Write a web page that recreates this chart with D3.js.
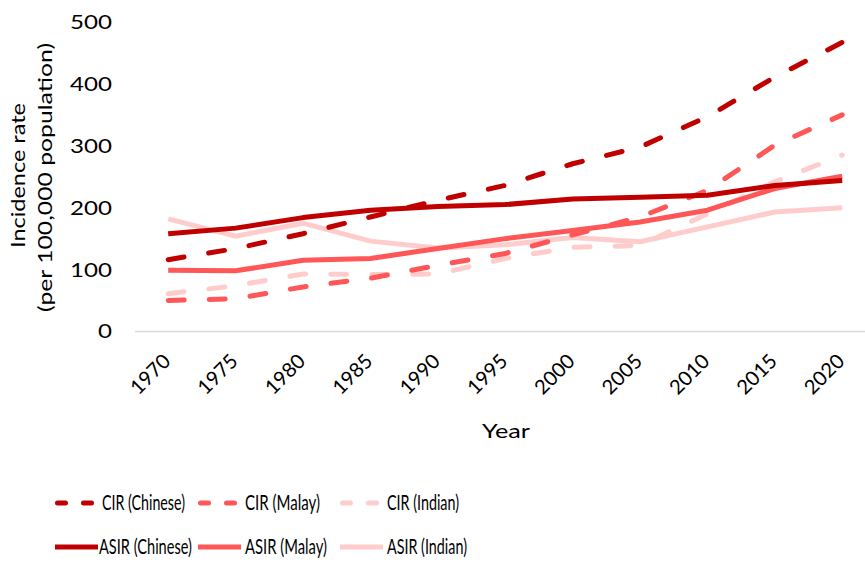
<!DOCTYPE html>
<html>
<head>
<meta charset="utf-8">
<script src="https://cdn.jsdelivr.net/npm/d3@7"></script>
<style>
  body { margin: 0; background: #fff; }
  svg { display: block; }
  text { font-family: "Century Gothic", "Lato", "Open Sans", sans-serif; fill: #000; }
</style>
</head>
<body>
<svg id="chart" width="865" height="563"></svg>
<script>
const years = ["1970","1975","1980","1985","1990","1995","2000","2005","2010","2015","2020"];
const cirChinese = [116, 134, 158, 185, 212, 236, 271, 298, 347, 411, 467];
const cirMalay   = [50, 53, 72, 86, 107, 126, 156, 185, 228, 301, 350];
const cirIndian  = [61, 74, 93, 92, 93, 118, 136, 139, 190, 242, 285];
const asirChinese = [158, 167, 184, 196, 202, 205, 214, 217, 220, 236, 244];
const asirMalay   = [99, 98, 115, 118, 134, 150, 163, 177, 196, 231, 251];
const asirIndian  = [182, 154, 175, 146, 135, 140, 152, 145, 169, 193, 200];
const yTicks = [0, 100, 200, 300, 400, 500];

const colDark = "#C00000", colMid = "#FF5757", colLight = "#FFCCCC";
const series = [
  {name: "CIR (Chinese)", values: cirChinese, color: colDark, dashed: true},
  {name: "CIR (Malay)", values: cirMalay, color: colMid, dashed: true},
  {name: "CIR (Indian)", values: cirIndian, color: colLight, dashed: true},
  {name: "ASIR (Chinese)", values: asirChinese, color: colDark, dashed: false},
  {name: "ASIR (Malay)", values: asirMalay, color: colMid, dashed: false},
  {name: "ASIR (Indian)", values: asirIndian, color: colLight, dashed: false}
];
const FONT = '"Century Gothic", "Lato", "Open Sans", sans-serif';

const svg = d3.select("#chart");
const left = 134.5, step = 67.4;
const x = d3.scalePoint().domain(years).range([left + step/2, left + step/2 + step*10]);
const y = d3.scaleLinear().domain([0, 500]).range([331.5, 22]);

// x axis line
svg.append("line").attr("x1", 135).attr("x2", 865).attr("y1", y(0)).attr("y2", y(0))
  .attr("stroke", "#d9d9d9").attr("stroke-width", 1.5);

// y tick labels
const yAxis = d3.axisLeft(y).tickValues(yTicks).tickSize(0).tickPadding(0);
const gy = svg.append("g").attr("transform", "translate(112,0)").call(yAxis);
gy.select(".domain").remove();
gy.selectAll("text").attr("font-size", 20).attr("fill", "#000")
  .style("font-family", FONT)
  .attr("textLength", d => String(d).length * 14)
  .attr("lengthAdjust", "spacingAndGlyphs");

// x tick labels
const xAxis = d3.axisBottom(x).tickSize(0).tickPadding(0);
const gx = svg.append("g").attr("transform", `translate(0,${y(0)})`).call(xAxis);
gx.select(".domain").remove();
gx.selectAll("text")
  .attr("font-size", 20).attr("fill", "#000")
  .style("font-family", FONT)
  .attr("text-anchor", "end")
  .attr("dy", 0)
  .attr("textLength", 47)
  .attr("lengthAdjust", "spacingAndGlyphs")
  .attr("transform", "translate(3,31) rotate(-45)");

// lines
const line = d3.line().x((d, i) => x(years[i])).y(d => y(d));
const order = [2, 5, 1, 4, 0, 3];
order.forEach(k => {
  const s = series[k];
  svg.append("path").datum(s.values)
    .attr("d", line)
    .attr("fill", "none")
    .attr("stroke", s.color)
    .attr("stroke-width", 5)
    .attr("stroke-linejoin", "round")
    .attr("stroke-linecap", s.dashed ? "round" : "butt")
    .attr("stroke-dasharray", s.dashed ? "16,25" : null);
});

// axis titles
svg.append("text").attr("x", 482).attr("y", 438)
  .attr("font-size", 20).attr("textLength", 48).attr("lengthAdjust", "spacingAndGlyphs").text("Year");
const yt = svg.append("text").attr("transform", "rotate(-90)").attr("font-size", 19);
yt.append("tspan").attr("x", -248).attr("y", 25)
  .attr("textLength", 145).attr("lengthAdjust", "spacingAndGlyphs").text("Incidence rate");
yt.append("tspan").attr("x", -312).attr("y", 52)
  .attr("textLength", 269).attr("lengthAdjust", "spacingAndGlyphs").text("(per 100,000 population)");

// legend
const legPos = [
  {lx: 55, tx: 102, ty: 503, w: 83}, {lx: 198, tx: 245, ty: 503, w: 75}, {lx: 340, tx: 387, ty: 503, w: 72},
  {lx: 55, tx: 99, ty: 547, w: 93}, {lx: 198, tx: 245, ty: 547, w: 82}, {lx: 340, tx: 387, ty: 547, w: 80}
];
series.forEach((s, i) => {
  const p = legPos[i];
  svg.append("line").attr("x1", p.lx + (s.dashed ? 2.5 : 0)).attr("x2", p.lx + 43 - (s.dashed ? 2.5 : 0))
    .attr("y1", p.ty).attr("y2", p.ty)
    .attr("stroke", s.color).attr("stroke-width", 5)
    .attr("stroke-linecap", s.dashed ? "round" : "butt")
    .attr("stroke-dasharray", s.dashed ? "8,18" : null);
  svg.append("text").attr("x", p.tx).attr("y", p.ty).attr("dy", "0.35em")
    .attr("font-size", 20.5).attr("textLength", p.w).attr("lengthAdjust", "spacingAndGlyphs").text(s.name);
});
</script>
</body>
</html>
